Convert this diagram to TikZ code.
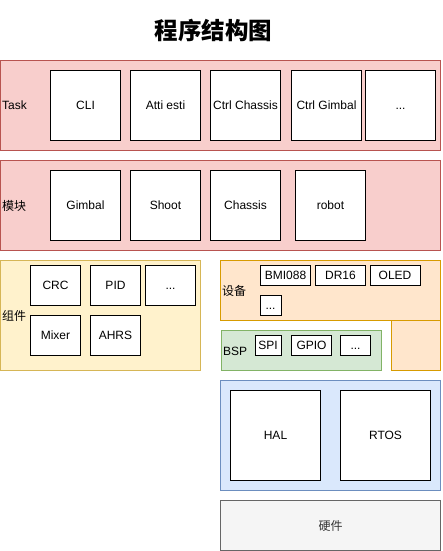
\documentclass[tikz,border=0pt]{standalone}
\usepackage{fontspec}
\setmainfont{Liberation Sans}
\newfontfamily\cjk{Noto Sans CJK SC}
\definecolor{redfill}{HTML}{F8CECC}
\definecolor{redline}{HTML}{B85450}
\definecolor{yelfill}{HTML}{FFF2CC}
\definecolor{yelline}{HTML}{D6B656}
\definecolor{orafill}{HTML}{FFE6CC}
\definecolor{oraline}{HTML}{D79B00}
\definecolor{grnfill}{HTML}{D5E8D4}
\definecolor{grnline}{HTML}{82B366}
\definecolor{blufill}{HTML}{DAE8FC}
\definecolor{bluline}{HTML}{6C8EBF}
\definecolor{gryfill}{HTML}{F5F5F5}
\definecolor{gryline}{HTML}{666666}
\definecolor{grytext}{HTML}{333333}
\tikzset{
  layer/.style={line width=1pt},
  item/.style={draw=black, fill=white, line width=1pt, inner sep=0pt, align=center,
    text height=8.6pt, text depth=0pt, font=\fontsize{12}{14}\selectfont},
  lbl/.style={anchor=west, inner sep=0pt, text height=8.6pt, text depth=0pt,
    font=\fontsize{12}{14}\selectfont},
  cjklbl/.style={anchor=west, inner sep=0pt, font=\fontsize{12}{14}\selectfont\cjk},
}
\begin{document}
\begin{tikzpicture}[x=1pt,y=-1pt]
\useasboundingbox (0,0) rectangle (443,551);
% title
\node[inner sep=0pt, font=\fontsize{23.5}{26}\selectfont\cjk\bfseries] (title) at (213.5,30.5) {程序结构图};

% Task layer
\draw[layer, fill=redfill, draw=redline] (0.5,60.5) rectangle (440.5,150.5);
\node[lbl] (tasklbl) at (2,105.5) {Task};
\node[item, minimum width=70pt, minimum height=70pt] (cli) at (85.5,105.5) {CLI};
\node[item, minimum width=70pt, minimum height=70pt] (atti) at (165.5,105.5) {Atti esti};
\node[item, minimum width=70pt, minimum height=70pt] (ctrlc) at (245.5,105.5) {Ctrl Chassis};
\node[item, minimum width=70pt, minimum height=70pt] (ctrlg) at (326.5,105.5) {Ctrl Gimbal};
\node[item, minimum width=70pt, minimum height=70pt] (tdots) at (400.5,105.5) {...};

% Module layer
\draw[layer, fill=redfill, draw=redline] (0.5,160.5) rectangle (440.5,250.5);
\node[cjklbl] (modlbl) at (2,205.5) {模块};
\node[item, minimum width=70pt, minimum height=70pt] (gimbal) at (85.5,205.5) {Gimbal};
\node[item, minimum width=70pt, minimum height=70pt] (shoot) at (165.5,205.5) {Shoot};
\node[item, minimum width=70pt, minimum height=70pt] (chassis) at (245.5,205.5) {Chassis};
\node[item, minimum width=70pt, minimum height=70pt] (robot) at (330.5,205.5) {robot};

% Component layer
\draw[layer, fill=yelfill, draw=yelline] (0.5,260.5) rectangle (200.5,370.5);
\node[cjklbl] (complbl) at (2,315.5) {组件};
\node[item, minimum width=50pt, minimum height=40pt] (crc) at (55.5,285.5) {CRC};
\node[item, minimum width=50pt, minimum height=40pt] (pid) at (115.5,285.5) {PID};
\node[item, minimum width=50pt, minimum height=40pt] (cdots) at (170.5,285.5) {...};
\node[item, minimum width=50pt, minimum height=40pt] (mixer) at (55.5,335.5) {Mixer};
\node[item, minimum width=50pt, minimum height=40pt] (ahrs) at (115.5,335.5) {AHRS};

% Device layer (L-shaped)
\draw[layer, fill=orafill, draw=oraline] (391.5,320.5) rectangle (440.5,370.5);
\draw[layer, fill=orafill, draw=oraline] (220.5,260.5) rectangle (440.5,320.5);
\node[cjklbl] (devlbl) at (222,290.5) {设备};
\node[item, minimum width=50pt, minimum height=20pt] (bmi) at (285.5,275.5) {BMI088};
\node[item, minimum width=50pt, minimum height=20pt] (dr16) at (340.5,275.5) {DR16};
\node[item, minimum width=50pt, minimum height=20pt] (oled) at (395,275.5) {OLED};
\node[item, minimum width=21pt, minimum height=20pt] (ddots) at (270.5,305.5) {...};

% BSP layer
\draw[layer, fill=grnfill, draw=grnline] (221.5,330.5) rectangle (381.5,370.5);
\node[lbl] (bsplbl) at (223,351) {BSP};
\node[item, minimum width=26pt, minimum height=20pt] (spi) at (268,345.5) {SPI};
\node[item, minimum width=40pt, minimum height=20pt] (gpio) at (311.5,345.5) {GPIO};
\node[item, minimum width=30pt, minimum height=20pt] (bdots) at (355.5,345.5) {...};

% HAL / RTOS layer
\draw[layer, fill=blufill, draw=bluline] (220.5,380.5) rectangle (440.5,490.5);
\node[item, minimum width=90pt, minimum height=90pt] (hal) at (275.5,435.5) {HAL};
\node[item, minimum width=90pt, minimum height=90pt] (rtos) at (385.5,435.5) {RTOS};

% Hardware
\node[draw=gryline, fill=gryfill, line width=1pt, inner sep=0pt, minimum width=220pt,
  minimum height=50pt, text=grytext, font=\fontsize{12}{14}\selectfont\cjk] (hw) at (330.5,525.5) {硬件};
\end{tikzpicture}
\end{document}
